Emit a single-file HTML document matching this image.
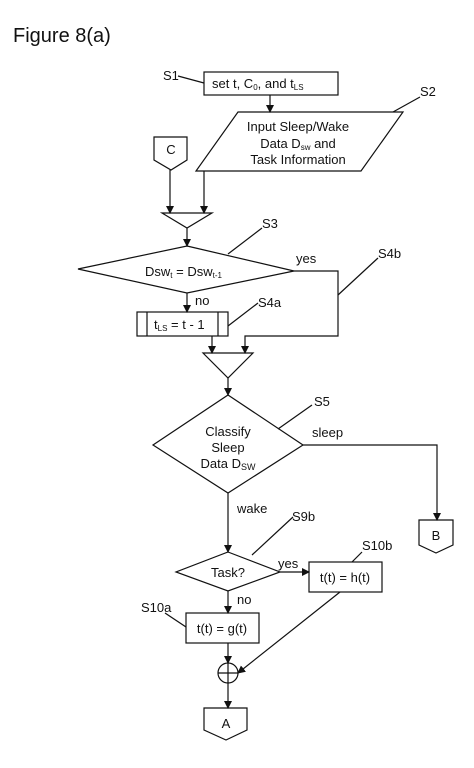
<!DOCTYPE html>
<html><head><meta charset="utf-8"><style>
html,body{margin:0;padding:0;background:#fff;}
svg{display:block;}
text{font-family:"Liberation Sans",Arial,sans-serif;fill:#111;}
</style></head><body>
<svg width="474" height="768" viewBox="0 0 474 768" xmlns="http://www.w3.org/2000/svg">
<defs><marker id="a" markerWidth="8" markerHeight="8" refX="7" refY="4" orient="auto" markerUnits="userSpaceOnUse"><path d="M0,0 L8,4 L0,8 Z" fill="#111"/></marker></defs>
<g stroke="#111" stroke-width="1.2" fill="none">
<rect x="204" y="72" width="134" height="23"/>
<line x1="178" y1="76" x2="204" y2="83"/>
<line x1="270" y1="95" x2="270" y2="112" marker-end="url(#a)"/>
<polygon points="238,112 403,112 361,171 196,171"/>
<line x1="393" y1="112" x2="420" y2="97"/>
<polygon points="154,137 187,137 187,160 171,170 154,160"/>
<line x1="170" y1="170" x2="170" y2="213" marker-end="url(#a)"/>
<line x1="204" y1="171" x2="204" y2="213" marker-end="url(#a)"/>
<polygon points="162,213 212,213 187,228"/>
<line x1="187" y1="228" x2="187" y2="246" marker-end="url(#a)"/>
<polygon points="187,246 294,271 187,293 78,269"/>
<line x1="228" y1="254" x2="262" y2="228"/>
<polyline points="294,271 338,271 338,336 245,336 245,353" marker-end="url(#a)"/>
<line x1="338" y1="295" x2="378" y2="258"/>
<line x1="187" y1="293" x2="187" y2="312" marker-end="url(#a)"/>
<rect x="137" y="312" width="91" height="24"/>
<line x1="147" y1="312" x2="147" y2="336"/>
<line x1="218" y1="312" x2="218" y2="336"/>
<line x1="228" y1="326" x2="258" y2="303"/>
<line x1="212" y1="336" x2="212" y2="353" marker-end="url(#a)"/>
<polygon points="203,353 253,353 228,378"/>
<line x1="228" y1="378" x2="228" y2="395" marker-end="url(#a)"/>
<polygon points="228,395 303,445 228,493 153,445"/>
<line x1="278" y1="429" x2="312" y2="405"/>
<polyline points="303,445 437,445 437,520" marker-end="url(#a)"/>
<polygon points="419,520 453,520 453,545 436,553 419,545"/>
<line x1="228" y1="493" x2="228" y2="552" marker-end="url(#a)"/>
<line x1="252" y1="555" x2="293" y2="517"/>
<polygon points="228,552 280,572 228,591 176,572"/>
<line x1="280" y1="572" x2="309" y2="572" marker-end="url(#a)"/>
<rect x="309" y="562" width="73" height="30"/>
<line x1="352" y1="562" x2="362" y2="552"/>
<line x1="228" y1="591" x2="228" y2="613" marker-end="url(#a)"/>
<rect x="186" y="613" width="73" height="30"/>
<line x1="165" y1="613" x2="186" y2="627"/>
<line x1="228" y1="643" x2="228" y2="663" marker-end="url(#a)"/>
<circle cx="228" cy="673" r="10"/>
<line x1="218" y1="673" x2="238" y2="673"/>
<line x1="340" y1="592" x2="238" y2="673" marker-end="url(#a)"/>
<line x1="228" y1="663" x2="228" y2="708" marker-end="url(#a)"/>
<polygon points="204,708 247,708 247,730 226,740 204,730"/>
</g>
<text x="13" y="42" font-size="20">Figure 8(a)</text>
<g font-size="13">
<text x="163" y="80">S1</text>
<text x="212" y="88">set t, C<tspan font-size="8" dy="2">0</tspan><tspan dy="-2">, and t</tspan><tspan font-size="8" dy="2">LS</tspan></text>
<text x="420" y="96">S2</text>
<text x="298" y="131" text-anchor="middle">Input Sleep/Wake</text>
<text x="298" y="148" text-anchor="middle">Data D<tspan font-size="8" dy="2">sw</tspan><tspan dy="-2"> and</tspan></text>
<text x="298" y="164" text-anchor="middle">Task Information</text>
<text x="171" y="154" text-anchor="middle">C</text>
<text x="262" y="228">S3</text>
<text x="145" y="276">Dsw<tspan font-size="8" dy="2">t</tspan><tspan dy="-2"> = Dsw</tspan><tspan font-size="8" dy="2">t-1</tspan></text>
<text x="296" y="263">yes</text>
<text x="378" y="258">S4b</text>
<text x="195" y="305">no</text>
<text x="258" y="307">S4a</text>
<text x="154" y="329">t<tspan font-size="8" dy="2">LS</tspan><tspan dy="-2"> = t - 1</tspan></text>
<text x="314" y="406">S5</text>
<text x="228" y="436" text-anchor="middle">Classify</text>
<text x="228" y="452" text-anchor="middle">Sleep</text>
<text x="228" y="468" text-anchor="middle">Data D<tspan font-size="9" dy="2">SW</tspan></text>
<text x="312" y="437">sleep</text>
<text x="436" y="540" text-anchor="middle">B</text>
<text x="237" y="513">wake</text>
<text x="292" y="521">S9b</text>
<text x="228" y="577" text-anchor="middle">Task?</text>
<text x="278" y="568">yes</text>
<text x="362" y="550">S10b</text>
<text x="345" y="582" text-anchor="middle">t(t) = h(t)</text>
<text x="237" y="604">no</text>
<text x="141" y="612">S10a</text>
<text x="222" y="633" text-anchor="middle">t(t) = g(t)</text>
<text x="226" y="728" text-anchor="middle">A</text>
</g>
</svg>
</body></html>
